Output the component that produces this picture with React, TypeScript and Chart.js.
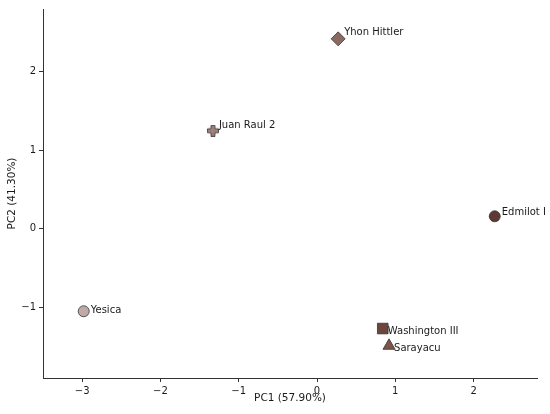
import React, { useEffect, useRef } from "react";
import { Chart, registerables } from "chart.js";

Chart.register(...registerables);

const names = ["Yhon Hittler", "Juan Raul 2", "Edmilot I", "Yesica", "Washington III", "Sarayacu"];
const pc1 = [0.27, -1.33, 2.27, -2.98, 0.84, 0.92];
const pc2 = [2.42, 1.25, 0.16, -1.05, -1.27, -1.49];
const xTicks = [-3, -2, -1, 0, 1, 2];
const yTicks = [-1, 0, 1, 2];

const colors = ["#8b6b61", "#a08078", "#5c3a33", "#bfaaa6", "#6b463c", "#7d5548"];
const labelOffsets = [[6, -6], [6, -5], [7, -4], [7, -1], [5, 3], [5, 3]];

function plusCanvas(color: string): HTMLCanvasElement {
  const c = document.createElement("canvas");
  const s = 12;
  c.width = s;
  c.height = s;
  const ctx = c.getContext("2d")!;
  const a = 4, b = 8, e0 = 0.5, e1 = s - 0.5;
  ctx.beginPath();
  ctx.moveTo(a, e0);
  ctx.lineTo(b, e0);
  ctx.lineTo(b, a);
  ctx.lineTo(e1, a);
  ctx.lineTo(e1, b);
  ctx.lineTo(b, b);
  ctx.lineTo(b, e1);
  ctx.lineTo(a, e1);
  ctx.lineTo(a, b);
  ctx.lineTo(e0, b);
  ctx.lineTo(e0, a);
  ctx.lineTo(a, a);
  ctx.closePath();
  ctx.fillStyle = color;
  ctx.fill();
  ctx.strokeStyle = "#333";
  ctx.lineWidth = 0.8;
  ctx.stroke();
  return c;
}

const fmt = (v: number) => (v < 0 ? "\u2212" + Math.abs(v) : String(v));

export default function App() {
  const ref = useRef<HTMLCanvasElement>(null);
  useEffect(() => {
    document.body.style.margin = "0";
    const font = "'DejaVu Sans', sans-serif";
    const styles: any[] = ["rectRot", plusCanvas(colors[1]), "circle", "circle", "rect", "triangle"];
    const radii = [7, 6, 5.5, 5.5, 7.5, 7];
    const labelPlugin = {
      id: "pointLabels",
      afterDatasetsDraw(chart: any) {
        const ctx = chart.ctx;
        const meta = chart.getDatasetMeta(0);
        ctx.save();
        ctx.font = `10px ${font}`;
        ctx.fillStyle = "#1a1a1a";
        ctx.textBaseline = "middle";
        ctx.textAlign = "left";
        meta.data.forEach((el: any, i: number) => {
          ctx.fillText(names[i], el.x + labelOffsets[i][0], el.y + labelOffsets[i][1]);
        });
        ctx.restore();
      },
    };
    const chart = new Chart(ref.current!, {
      type: "scatter",
      data: {
        datasets: [
          {
            data: pc1.map((x, i) => ({ x, y: pc2[i] })),
            backgroundColor: colors,
            borderColor: "#333",
            borderWidth: 0.8,
            pointStyle: styles,
            pointRadius: radii,
          },
        ],
      },
      options: {
        animation: false,
        responsive: true,
        maintainAspectRatio: false,
        layout: { padding: { top: 7, right: 13, left: 0, bottom: 0 } },
        plugins: { legend: { display: false }, tooltip: { enabled: false } },
        scales: {
          x: {
            type: "linear",
            min: -3.5,
            max: 2.81,
            afterBuildTicks: (s: any) => {
              s.ticks = xTicks.map((v) => ({ value: v }));
            },
            afterFit: (s: any) => {
              s.height = 36;
            },
            grid: { drawOnChartArea: false, drawTicks: true, tickLength: 4, color: "#333" },
            border: { display: true, color: "#333", width: 1 },
            ticks: { color: "#1a1a1a", font: { family: font, size: 10 }, padding: 3, callback: (v: any) => fmt(Number(v)) },
            title: { display: true, text: "PC1 (57.90%)", color: "#1a1a1a", font: { family: font, size: 10.5 }, padding: { top: 0, bottom: 9 } },
          },
          y: {
            type: "linear",
            min: -1.9,
            max: 2.8,
            afterBuildTicks: (s: any) => {
              s.ticks = yTicks.map((v) => ({ value: v }));
            },
            afterFit: (s: any) => {
              s.width = 43;
            },
            grid: { drawOnChartArea: false, drawTicks: true, tickLength: 4, color: "#333" },
            border: { display: true, color: "#333", width: 1 },
            ticks: { color: "#1a1a1a", font: { family: font, size: 10 }, padding: 3, callback: (v: any) => fmt(Number(v)) },
            title: { display: true, text: "PC2 (41.30%)", color: "#1a1a1a", font: { family: font, size: 10.5 }, padding: { top: 6, bottom: 4 } },
          },
        },
      },
      plugins: [labelPlugin],
    } as any);
    return () => chart.destroy();
  }, []);
  return (
    <div style={{ width: 550, height: 414, position: "relative" }}>
      <canvas ref={ref} />
    </div>
  );
}
